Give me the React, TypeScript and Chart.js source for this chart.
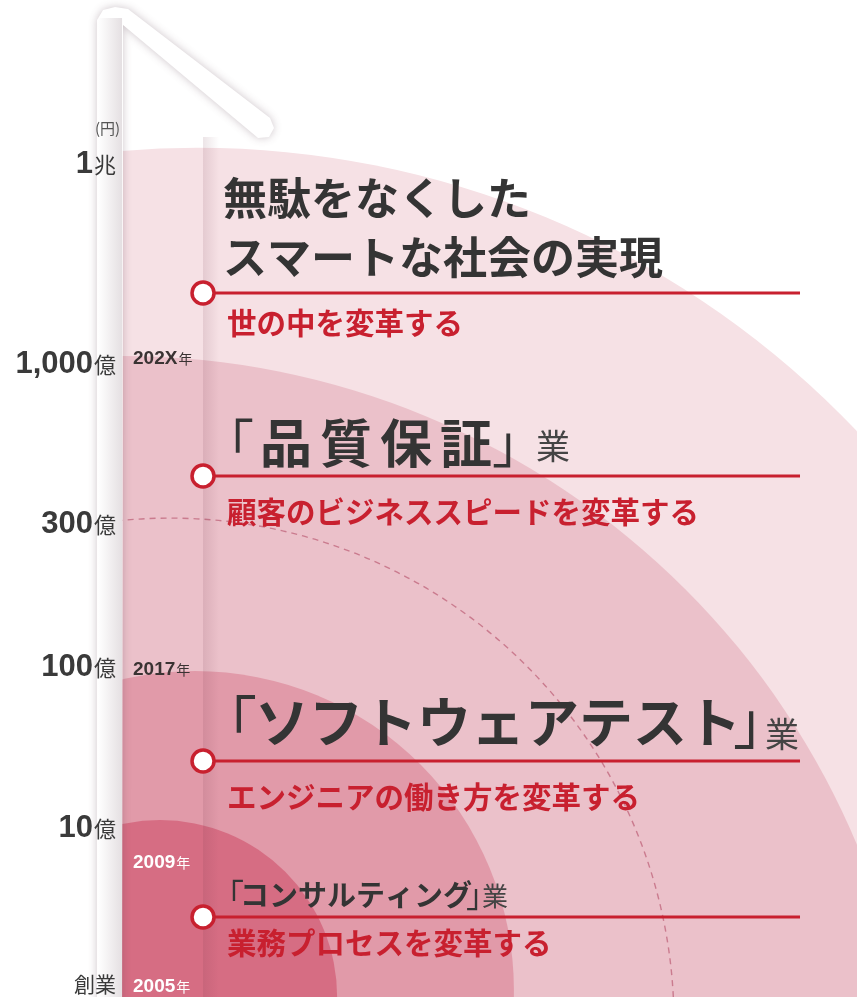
import React, { useEffect, useRef } from 'react';
import { Chart, registerables } from 'chart.js';

Chart.register(...registerables);

const FONT = '"Noto Sans CJK JP", "Noto Sans CJK SC", sans-serif';
const NUM_FONT = '"Liberation Sans", Arial, sans-serif';

// ---- axis (revenue levels, in stage units) ----
const axisNumbers = ['', '10', '100', '300', '1,000', '1'];
const axisUnits = ['創業', '億', '億', '億', '億', '兆'];
const axisLevels = [0, 0.988, 1.988, 2.876, 3.87, 5.112];
const axisUnitNote = '(円)';

// ---- years ----
const years = ['2005', '2009', '2017', '202X'];
const yearLevels = [0, 0.77, 1.969, 3.9];

// ---- milestones (bottom → top) ----
const milestoneLevels = [0.422, 1.391, 3.161, 4.298];
const milestoneStart = 0.503;
const milestoneEnd = 4.211;
const businessNames = ['コンサルティング', 'ソフトウェアテスト', '品質保証'];
const visionLines = ['無駄をなくした', 'スマートな社会の実現'];
const missions = ['業務プロセスを変革する', 'エンジニアの働き方を変革する', '顧客のビジネススピードを変革する', '世の中を変革する'];

// ---- growth spheres (small → large) ----
const sphereTops = [1.025, 1.95, 3.907, 5.2];
const sphereCenterX = [0.236, 0.453, 0, 0.466];
const sphereCenterY = [-0.075, -0.031, -1.043, -0.453];
const targetTop = 2.9; // 300億 dashed target
const targetCenterX = 0.298;
const targetCenterY = -0.23;

// ---- scale extents ----
const xRange = [-0.758, 4.565];
const yRange = [-0.0745, 6.118];

// ---- styles ----
const sphereFills = ['#d66d83', '#e19aa9', '#ebc1ca', '#f6e1e5'];
const RED = '#c8202f';
const DARK = '#343434';

type Part = { text: string; size: number; weight?: string; color?: string; gap?: number; spacing?: number; dy?: number };

function drawParts(ctx: CanvasRenderingContext2D, x: number, y: number, parts: Part[]) {
  let cx = x;
  for (const p of parts) {
    ctx.font = `${p.weight ?? 'bold'} ${p.size}px ${FONT}`;
    ctx.fillStyle = p.color ?? DARK;
    const sp = p.spacing ?? 0;
    const chars = Array.from(p.text);
    chars.forEach((ch, i) => {
      ctx.fillText(ch, cx, y + (p.dy ?? 0));
      cx += ctx.measureText(ch).width + (i < chars.length - 1 ? sp : 0);
    });
    cx += p.gap ?? 0;
  }
}

const backdrop = {
  id: 'backdrop',
  beforeDatasetsDraw(chart: any) {
    const { ctx, scales, width: W, height: H } = chart;
    const xs = scales.x;
    const ys = scales.y;
    const ax = xs.getPixelForValue(0);
    const sx = xs.getPixelForValue(milestoneStart);
    const unit = xs.getPixelForValue(1) - xs.getPixelForValue(0);
    ctx.save();
    ctx.fillStyle = '#ffffff';
    ctx.fillRect(0, 0, W, H);

    ctx.beginPath();
    ctx.rect(ax, 0, W - ax, H);
    ctx.clip();
    for (let i = sphereTops.length - 1; i >= 0; i--) {
      const cx = xs.getPixelForValue(sphereCenterX[i]);
      const cy = ys.getPixelForValue(sphereCenterY[i]);
      const r = (sphereTops[i] - sphereCenterY[i]) * unit;
      ctx.beginPath();
      ctx.arc(cx, cy, r, 0, Math.PI * 2);
      ctx.fillStyle = sphereFills[i];
      ctx.fill();
    }
    // dashed 300億 target
    ctx.beginPath();
    ctx.arc(xs.getPixelForValue(targetCenterX), ys.getPixelForValue(targetCenterY), (targetTop - targetCenterY) * unit, 0, Math.PI * 2);
    ctx.setLineDash([6, 5]);
    ctx.lineWidth = 1.4;
    ctx.strokeStyle = 'rgba(196,110,132,0.85)';
    ctx.stroke();
    ctx.setLineDash([]);

    // column shadow
    const colTop = 137;
    const g2 = ctx.createLinearGradient(sx, 0, sx + 16, 0);
    g2.addColorStop(0, 'rgba(110,50,70,0.13)');
    g2.addColorStop(1, 'rgba(110,50,70,0)');
    ctx.fillStyle = g2;
    ctx.fillRect(sx, colTop, 16, H - colTop);
    ctx.restore();

    // folded band
    ctx.save();
    const pts: [number, number][] = [
      [ax - 25, H + 30], [ax - 25, 20], [ax - 19, 10], [ax - 7, 7], [ax + 6, 9],
      [sx + 67, 118], [sx + 71, 128], [sx + 66, 137], [sx + 55, 138], [ax + 1, 25], [ax, H + 30],
    ];
    ctx.beginPath();
    pts.forEach(([x, y], i) => (i ? ctx.lineTo(x, y) : ctx.moveTo(x, y)));
    ctx.closePath();
    ctx.shadowColor = 'rgba(90,60,75,0.3)';
    ctx.shadowBlur = 9;
    ctx.fillStyle = '#ffffff';
    ctx.fill();
    ctx.shadowColor = 'transparent';
    const g = ctx.createLinearGradient(ax - 24, 0, ax, 0);
    g.addColorStop(0, 'rgba(150,130,140,0)');
    g.addColorStop(1, 'rgba(150,130,140,0.25)');
    ctx.fillStyle = g;
    ctx.fillRect(ax - 24, 18, 24, H);
    ctx.restore();
  },
  afterDatasetsDraw(chart: any) {
    const { ctx, scales } = chart;
    const xs = scales.x;
    const ys = scales.y;
    const ax = xs.getPixelForValue(0);
    const ly = milestoneLevels.map((l) => ys.getPixelForValue(l));
    ctx.save();
    ctx.textAlign = 'left';
    ctx.textBaseline = 'middle';

    // vision
    drawParts(ctx, ax + 101, ly[3] - 95, [{ text: visionLines[0], size: 44 }]);
    drawParts(ctx, ax + 101, ly[3] - 36, [{ text: visionLines[1], size: 44 }]);
    // 品質保証
    drawParts(ctx, ax + 80, ly[2] - 33, [
      { text: '「', size: 52, weight: 'normal', gap: 6 },
      { text: businessNames[2], size: 52, spacing: 8, gap: 0 },
      { text: '」', size: 52, weight: 'normal', gap: -8 },
      { text: '業', size: 34, weight: 'normal', color: '#444', dy: 3 },
    ]);
    // ソフトウェアテスト
    drawParts(ctx, ax + 77, ly[1] - 39, [
      { text: '「', size: 58, weight: 'normal', gap: -2 },
      { text: businessNames[1], size: 54, gap: -8 },
      { text: '」', size: 58, weight: 'normal', gap: -26 },
      { text: '業', size: 34, weight: 'normal', color: '#444', dy: 12 },
    ]);
    // コンサルティング
    drawParts(ctx, ax + 90, ly[0] - 22, [
      { text: '「', size: 32, weight: 'normal', gap: -4 },
      { text: businessNames[0], size: 29, gap: -6 },
      { text: '」', size: 32, weight: 'normal', gap: -16 },
      { text: '業', size: 26, weight: 'normal', color: '#444', dy: 1 },
    ]);
    // missions
    const offs = [26, 36, 36, 30];
    missions.forEach((m, i) => {
      drawParts(ctx, ax + 105, ly[i] + offs[i], [{ text: m, size: 29.5, color: RED }]);
    });

    // axis labels
    const unitRight = ax - 6;
    axisLevels.forEach((lv, i) => {
      const y = ys.getPixelForValue(lv);
      ctx.textAlign = 'right';
      if (!axisNumbers[i]) {
        ctx.textBaseline = 'middle';
        ctx.font = `normal 21px ${FONT}`;
        ctx.fillStyle = '#3a3a3a';
        ctx.fillText(axisUnits[i], unitRight, y - 1);
        return;
      }
      ctx.textBaseline = 'alphabetic';
      ctx.font = `normal 22px ${FONT}`;
      ctx.fillStyle = '#3a3a3a';
      ctx.fillText(axisUnits[i], unitRight, y + 11);
      const uw = ctx.measureText(axisUnits[i]).width;
      ctx.font = `bold 31px ${NUM_FONT}`;
      ctx.fillText(axisNumbers[i], unitRight - uw - 1, y + 11);
    });
    ctx.textAlign = 'right';
    ctx.textBaseline = 'middle';
    ctx.font = `normal 15px ${FONT}`;
    ctx.fillStyle = '#555';
    ctx.fillText(axisUnitNote, ax - 2, ys.getPixelForValue(axisLevels[5]) - 34);

    // year labels
    ctx.textAlign = 'left';
    ctx.textBaseline = 'alphabetic';
    years.forEach((yr, i) => {
      const y = ys.getPixelForValue(yearLevels[i]) + 7;
      const col = i < 2 ? '#ffffff' : '#3a3333';
      ctx.fillStyle = col;
      ctx.font = `bold 19px ${NUM_FONT}`;
      ctx.fillText(yr, ax + 11, y);
      const w = ctx.measureText(yr).width;
      ctx.font = `normal 14px ${FONT}`;
      ctx.fillText('年', ax + 12 + w, y);
    });
    ctx.restore();
  },
};

export default function App() {
  const ref = useRef<HTMLCanvasElement>(null);
  useEffect(() => {
    const canvas = ref.current;
    if (!canvas) return;
    const lineSets = milestoneLevels.map((lv) => ({
      data: [
        { x: milestoneStart, y: lv },
        { x: milestoneEnd, y: lv },
      ],
      showLine: true,
      borderColor: RED,
      borderWidth: 3,
      pointRadius: 0,
      order: 1,
    }));
    const chart = new Chart(canvas, {
      type: 'scatter',
      data: {
        datasets: [
          {
            data: milestoneLevels.map((lv) => ({ x: milestoneStart, y: lv })),
            pointRadius: 11,
            pointBackgroundColor: '#ffffff',
            pointBorderColor: RED,
            pointBorderWidth: 3.5,
            order: 0,
          },
          ...lineSets,
        ],
      } as any,
      options: {
        responsive: false,
        animation: false,
        layout: { padding: 0, autoPadding: false },
        plugins: { legend: { display: false }, tooltip: { enabled: false } },
        scales: {
          x: { type: 'linear', display: false, min: xRange[0], max: xRange[1] },
          y: { type: 'linear', display: false, min: yRange[0], max: yRange[1] },
        },
      } as any,
      plugins: [backdrop],
    });
    return () => chart.destroy();
  }, []);
  return (
    <div style={{ position: 'absolute', left: 0, top: 0, width: 857, height: 997, background: '#fff' }}>
      <canvas ref={ref} width={857} height={997} style={{ display: 'block' }} />
    </div>
  );
}
